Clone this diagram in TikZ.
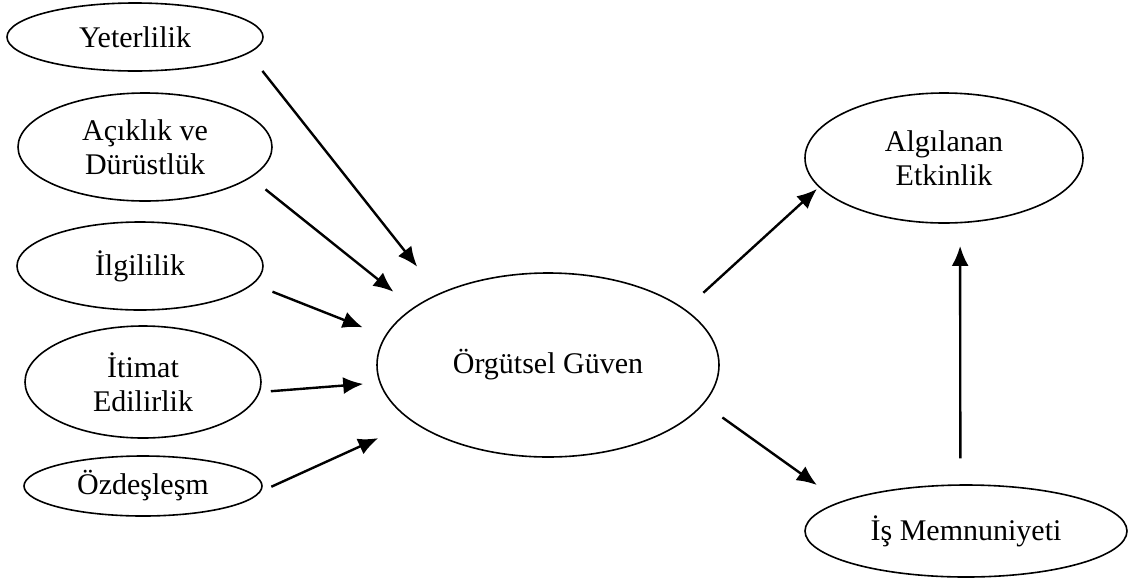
\documentclass[tikz,border=0pt]{standalone}
\usepackage{fontspec}
\setmainfont{Liberation Serif}
\usetikzlibrary{arrows.meta,positioning,shapes.geometric}

\begin{document}
\begin{tikzpicture}[x=0.5pt, y=-0.5pt, font=\fontsize{15}{17}\selectfont,
oval/.style={draw, ellipse, line width=0.8pt, inner sep=0pt, outer sep=0pt, align=center},
arrow/.style={-{Latex[length=10pt, width=8.5pt]}, line width=1.2pt}]
\useasboundingbox (0,0) rectangle (1129,579);
\node[oval, minimum width=128pt, minimum height=34pt] (yet) at (135,37) {Yeterlilik};
\node[oval, minimum width=127pt, minimum height=54pt] (acik) at (145,147) {Açıklık ve\\Dürüstlük};
\node[oval, minimum width=123pt, minimum height=44pt] (ilgi) at (140,266) {İlgililik};
\node[oval, minimum width=118pt, minimum height=56pt] (itim) at (143,382) {İtimat\\Edilirlik};
\node[oval, minimum width=119pt, minimum height=30pt] (ozde) at (143,486) {Özdeşleşm};
\node[oval, minimum width=171pt, minimum height=92pt] (org) at (548,365) {Örgütsel Güven};
\node[oval, minimum width=139pt, minimum height=65pt] (alg) at (944,158) {Algılanan\\Etkinlik};
\node[oval, minimum width=161pt, minimum height=46pt] (is) at (966,531) {İş Memnuniyeti};
\draw[arrow, shorten <=11.5pt, shorten >=17.5pt] (yet.-8) -- (org.147);
\draw[arrow, shorten <=9.75pt, shorten >=13pt] (acik.-16) -- (org.157);
\draw[arrow, shorten <=10.75pt, shorten >=12.25pt] (ilgi.-9) -- (org.170);
\draw[arrow, shorten <=5.9pt, shorten >=8.5pt] (itim.-5) -- (org.-174);
\draw[arrow, shorten <=6.5pt, shorten >=19.5pt] (ozde.-3) -- (org.-157);
\draw[arrow, shorten <=12.6pt, shorten >=1.65pt] (org.22) -- (alg.-167);
\draw[arrow, shorten <=11.85pt, shorten >=14.7pt] (org.-14) -- (is.167);
\draw[arrow, shorten <=13.35pt, shorten >=11.7pt] (is.97) -- (alg.-76);
\end{tikzpicture}
\end{document}
